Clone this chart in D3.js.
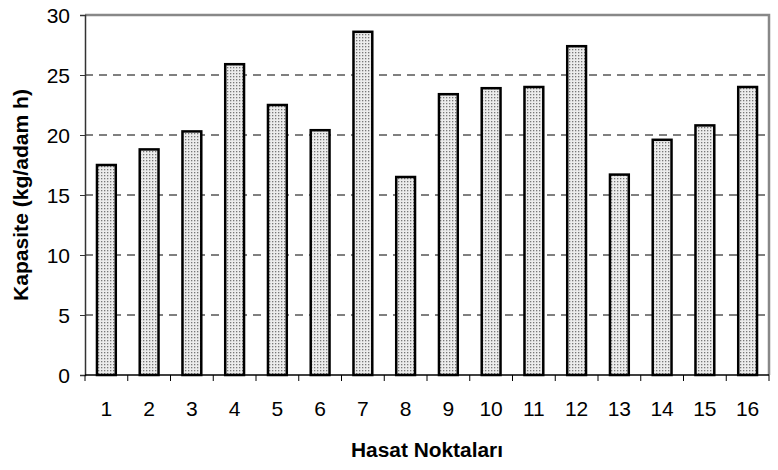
<!DOCTYPE html>
<html lang="tr">
<head>
<meta charset="UTF-8">
<title>Kapasite</title>
<style>
    body { margin: 0; padding: 0; background: #fff; }
    svg { display: block; }
    text { font-family: "Liberation Sans", Arial, sans-serif; fill: #000; }
</style>
</head>
<body>
<svg width="778" height="470"></svg>
<script src="https://cdnjs.cloudflare.com/ajax/libs/d3/7.8.5/d3.min.js"></script>
<script>
    // Hasat noktalari ve kapasite degerleri
    const categories = ["1", "2", "3", "4", "5", "6", "7", "8", "9", "10", "11", "12", "13", "14", "15", "16"];
    const values = [17.5, 18.8, 20.3, 25.9, 22.5, 20.4, 28.6, 16.5, 23.4, 23.9, 24.0, 27.4, 16.7, 19.6, 20.8, 24.0];
    const yTicks = [0, 5, 10, 15, 20, 25, 30];

    const svg = d3.select("svg");
    const margin = { left: 85, top: 15, right: 9, bottom: 95 };
    const width = 778 - margin.left - margin.right;
    const height = 470 - margin.top - margin.bottom;

    // dotted fill used by the bars
    const defs = svg.append("defs");
    const pat = defs.append("pattern")
        .attr("id", "dots")
        .attr("patternUnits", "userSpaceOnUse")
        .attr("width", 3)
        .attr("height", 3);
    pat.append("rect").attr("width", 3).attr("height", 3).attr("fill", "#ececec");
    pat.append("rect").attr("x", 1).attr("y", 1).attr("width", 1.3).attr("height", 1.3).attr("fill", "#777");

    const g = svg.append("g").attr("transform", `translate(${margin.left},${margin.top})`);

    const x = d3.scaleBand().domain(categories).range([0, width]).paddingInner(0.56).paddingOuter(0.28);
    const xEdges = d3.scaleLinear().domain([0, categories.length]).range([0, width]);
    const y = d3.scaleLinear().domain([0, 30]).range([height, 0]);

    // dashed grid lines
    g.selectAll(".grid")
        .data(yTicks.filter(d => d > 0 && d < 30))
        .enter().append("line")
        .attr("x1", 0).attr("x2", width)
        .attr("y1", d => y(d)).attr("y2", d => y(d))
        .attr("stroke", "#000")
        .attr("stroke-width", 1)
        .attr("stroke-dasharray", "8,6");

    // plot frame top & right (gray)
    g.append("path")
        .attr("d", `M0,${y(30)}H${width}V${height}`)
        .attr("fill", "none")
        .attr("stroke", "#888")
        .attr("stroke-width", 2.5);

    // bars
    g.selectAll(".bar")
        .data(values)
        .enter().append("rect")
        .attr("x", (d, i) => x(categories[i]))
        .attr("y", d => y(d))
        .attr("width", x.bandwidth())
        .attr("height", d => height - y(d))
        .attr("fill", "url(#dots)")
        .attr("stroke", "#000")
        .attr("stroke-width", 2.5);

    // y axis
    const yAxis = g.append("g")
        .call(d3.axisLeft(y).tickValues(yTicks).tickSize(5).tickPadding(10).tickFormat(d3.format("d")));
    yAxis.select(".domain").attr("stroke", "#333").attr("stroke-width", 1.5);
    yAxis.selectAll(".tick line").attr("stroke", "#333");
    yAxis.selectAll("text")
        .attr("font-family", "Liberation Sans, Arial, sans-serif")
        .attr("font-size", null)
        .style("font-size", "21px")
        .attr("dy", "0.36em");

    // x axis line and ticks at category edges
    g.append("line")
        .attr("x1", 0).attr("x2", width)
        .attr("y1", height).attr("y2", height)
        .attr("stroke", "#000").attr("stroke-width", 1.5);
    g.selectAll(".xtick")
        .data(d3.range(categories.length + 1))
        .enter().append("line")
        .attr("x1", d => xEdges(d)).attr("x2", d => xEdges(d))
        .attr("y1", height).attr("y2", height + 6)
        .attr("stroke", "#000");
    g.selectAll(".xlabel")
        .data(categories)
        .enter().append("text")
        .attr("x", d => x(d) + x.bandwidth() / 2)
        .attr("y", height + 41)
        .attr("text-anchor", "middle")
        .style("font-size", "21px")
        .text(d => d);

    // axis titles
    svg.append("text")
        .attr("transform", `translate(28,${margin.top + height / 2}) rotate(-90)`)
        .attr("text-anchor", "middle")
        .attr("textLength", 212)
        .attr("lengthAdjust", "spacingAndGlyphs")
        .style("font-size", "20px")
        .style("font-weight", "bold")
        .text("Kapasite (kg/adam h)");

    svg.append("text")
        .attr("x", 427)
        .attr("y", 457)
        .attr("text-anchor", "middle")
        .attr("textLength", 152)
        .attr("lengthAdjust", "spacingAndGlyphs")
        .style("font-size", "20px")
        .style("font-weight", "bold")
        .text("Hasat Noktaları");
</script>
</body>
</html>
